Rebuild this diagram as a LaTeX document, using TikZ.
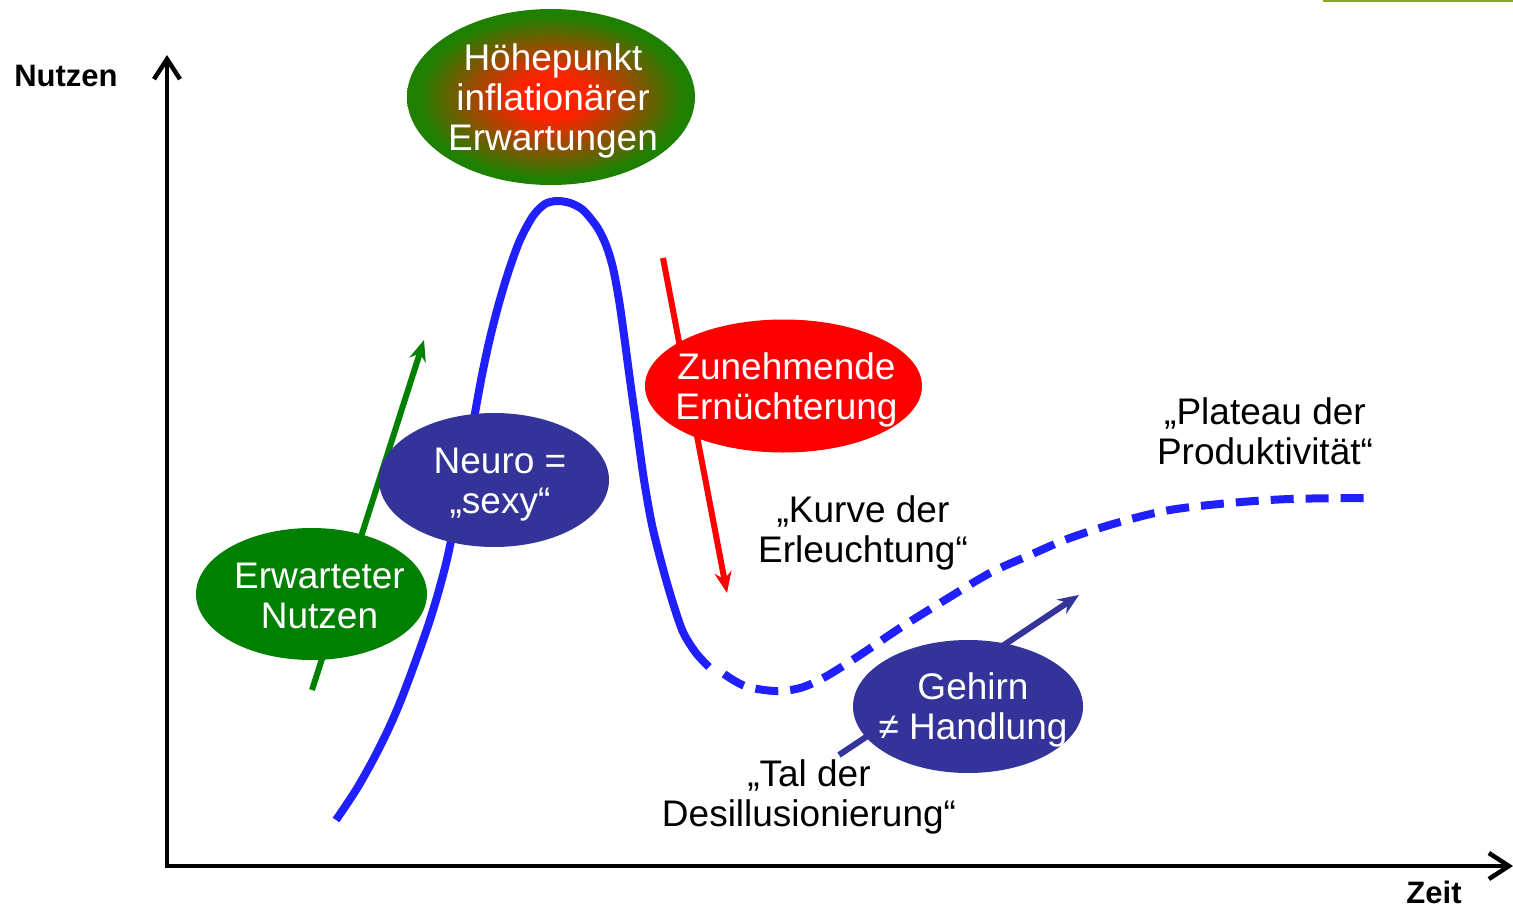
\documentclass[tikz,border=0pt]{standalone}
\usepackage{fontspec}
\setmainfont{Liberation Sans}
\usetikzlibrary{shapes.geometric,arrows.meta}
\definecolor{navy}{HTML}{333399}
\definecolor{dkgreen}{HTML}{008000}
\definecolor{curveblue}{HTML}{2020FF}
\definecolor{hred}{HTML}{FF2200}
\definecolor{hgreen}{HTML}{1F7F00}
\definecolor{topline}{HTML}{8CAA1E}
\pgfdeclareradialshading{hype}{\pgfpoint{0bp}{0bp}}{color(0bp)=(hred); color(6bp)=(hred); color(23bp)=(hgreen); color(25bp)=(hgreen); color(50bp)=(hgreen)}
\tikzset{
  bubble/.style={ellipse, inner sep=0pt, draw=none},
  wlabel/.style={text=white, font=\fontsize{37}{40}\selectfont, align=center},
  blabel/.style={text=black, font=\fontsize{37}{40}\selectfont, align=center},
  axislabel/.style={font=\fontsize{31}{34}\selectfont\bfseries},
  axisline/.style={line width=4.5pt, {Straight Barb[length=20pt,width=26pt]}-{Straight Barb[length=20pt,width=26pt]}},
  pointer/.style={line width=6pt, -{Stealth[length=21pt,width=17pt,inset=7pt]}},
  hypecurve/.style={curveblue, line width=8pt, line join=round},
}
\begin{document}
\begin{tikzpicture}[x=1pt,y=-1pt]
\useasboundingbox (0,0) rectangle (1513,907);
% top decoration
\draw[topline, line width=2pt] (1323,1) -- (1513,1);
% axes
\coordinate (ytip) at (167,55);
\coordinate (origin) at (167,866);
\coordinate (xtip) at (1513,866);
\draw[axisline] (ytip) -- (origin) -- (xtip);
\node[axislabel] (ylab) at (66,76) {Nutzen};
\node[axislabel] (xlab) at (1434,892) {Zeit};
% hype curve
\draw[hypecurve] plot[smooth, tension=0.5] coordinates {
 (336,820) (356,790) (373,760) (388,730) (401,700) (416,660) (429,623) (439,590)
 (448,555) (458,505) (467,457) (475,413) (482,375) (490,338) (499,303) (509,270)
 (520,240) (533,216) (545,204) (557,201) (570,203) (583,210) (597,227) (606,245)
 (613,268) (619,300) (624,335) (630,380) (637,430) (644,480) (652,525) (662,565)
 (672,600) (683,632) (696,653) (709,667)};
\draw[hypecurve, dash pattern=on 23pt off 12pt] plot[smooth, tension=0.55] coordinates {
 (724,674) (745,686) (775,691) (800,688) (825,677) (860,655) (900,628) (945,600)
 (990,573) (1030,555) (1070,538) (1120,522) (1170,510) (1230,503) (1290,499) (1365,498)};
% pointers
\coordinate (g0) at (312,690); \coordinate (g1) at (424,340);
\draw[pointer, dkgreen] (g0) -- (g1);
\coordinate (r0) at (663,258); \coordinate (r1) at (727,593);
\draw[pointer, red] (r0) -- (r1);
\coordinate (n0) at (839,755); \coordinate (n1) at (1079,595);
\draw[pointer, navy] (n0) -- (n1);
% bubbles
\node[bubble, shade, shading=hype, minimum width=288pt, minimum height=176pt,
  label={[wlabel, xshift=2pt, yshift=-4pt]center:{Höhepunkt\\inflationärer\\Erwartungen}}] (hp) at (551,97) {};
\node[bubble, fill=red, minimum width=277pt, minimum height=133pt,
  label={[wlabel, xshift=3pt, yshift=-4pt]center:{Zunehmende\\Ernüchterung}}] (zn) at (783.5,386) {};
\node[bubble, fill=navy, minimum width=230pt, minimum height=134pt,
  label={[wlabel, xshift=6pt, yshift=-5pt]center:{Neuro =\\„sexy“}}] (ne) at (494,480) {};
\node[bubble, fill=dkgreen, minimum width=231pt, minimum height=132pt,
  label={[wlabel, xshift=8pt, yshift=-2pt]center:{Erwarteter\\Nutzen}}] (en) at (311.5,594) {};
\node[bubble, fill=navy, minimum width=230pt, minimum height=133pt,
  label={[wlabel, xshift=5pt, yshift=-3pt]center:{Gehirn\\≠ Handlung}}] (gh) at (968,706.5) {};
% stage labels
\node[blabel] (plateau) at (1265,431) {„Plateau der\\Produktivität“};
\node[blabel] (kurve) at (863,533) {„Kurve der\\Erleuchtung“};
\node[blabel] (tal) at (809,797) {„Tal der\\Desillusionierung“};
\end{tikzpicture}
\end{document}
